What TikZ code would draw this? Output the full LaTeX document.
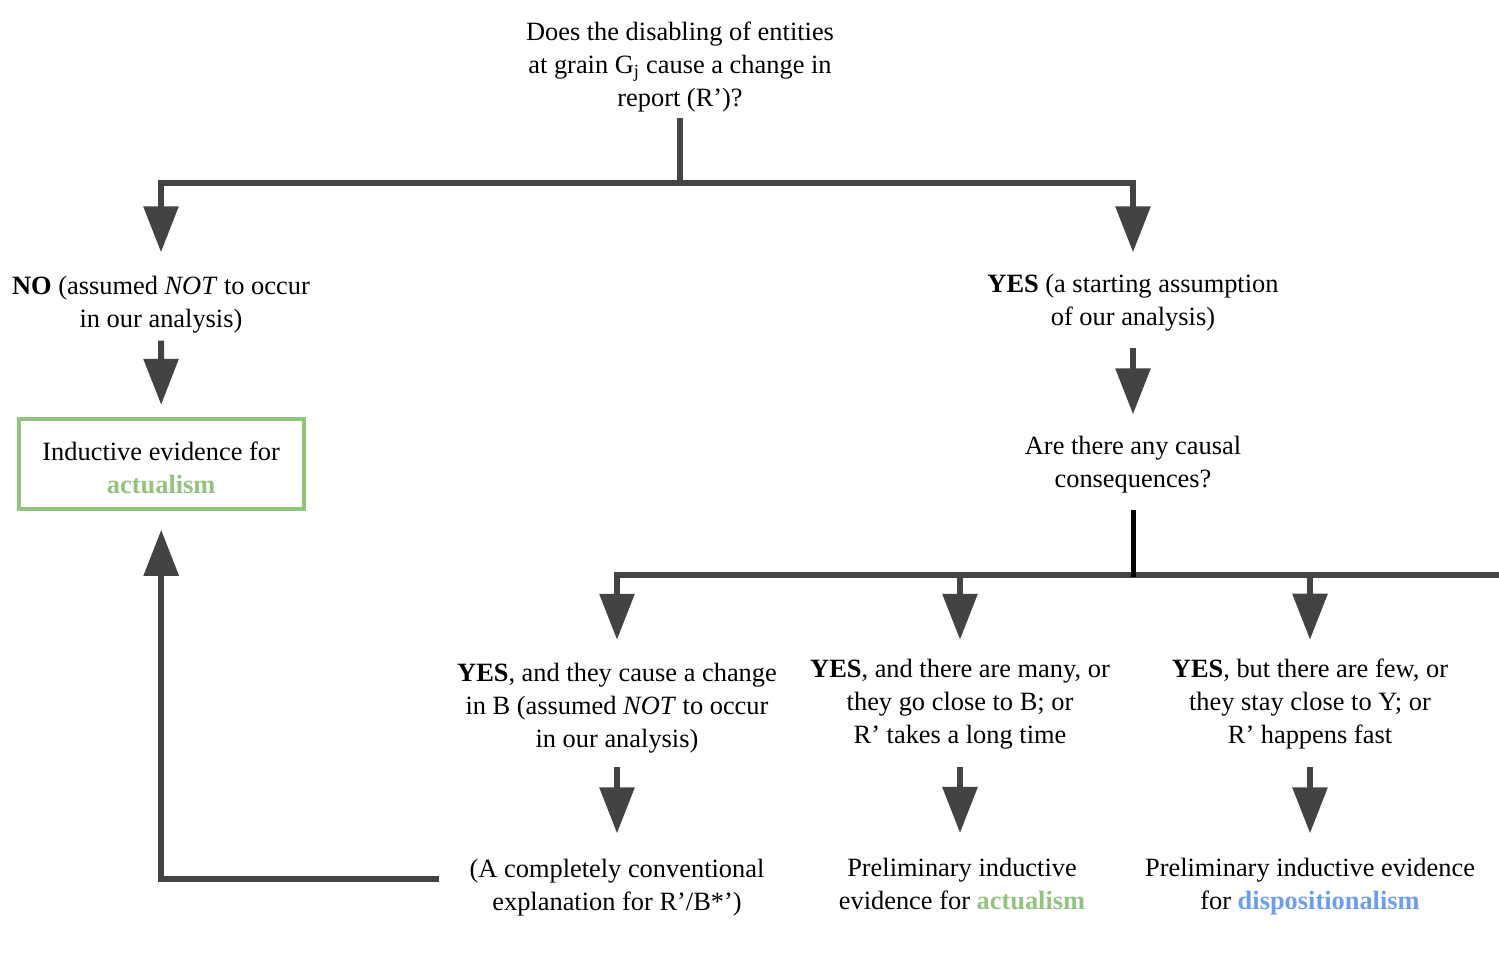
\documentclass[tikz,border=0pt]{standalone}
\usepackage{fontspec}
\setmainfont{Liberation Serif}
\usetikzlibrary{arrows.meta}
\definecolor{lineg}{HTML}{434343}
\definecolor{actg}{HTML}{93C47D}
\definecolor{dispb}{HTML}{6D9EEB}
\begin{document}
\begin{tikzpicture}[x=1pt,y=-1pt,
  link/.style={draw=lineg, line width=6pt},
  arr/.style={link, -{Triangle[width=34pt,length=46pt]}},
  txt/.style={align=center, inner sep=0pt, text=black, font=\fontsize{26.4}{33}\selectfont},
  goodbox/.style={txt, draw=actg, line width=4pt, minimum width=285pt, minimum height=90pt},
]
\useasboundingbox (0,0) rectangle (1499,958);

% questions and outcomes
\node[txt] (q1) at (680,67) {Does the disabling of entities\\at grain G\textsubscript{j} cause a change in\\report (R’)?};
\node[txt] (no) at (161,305) {\textbf{NO} (assumed \textit{NOT} to occur\\in our analysis)};
\node[goodbox] (act) at (161.2,463.8) {\rule{0pt}{27.5pt}Inductive evidence for\\\textbf{\color{actg}actualism}};
\node[txt] (yes) at (1133,303) {\textbf{YES} (a starting assumption\\of our analysis)};
\node[txt] (q2) at (1133,465) {Are there any causal\\consequences?};

\node[txt] (c1) at (617,708) {\textbf{YES}, and they cause a change\\in B (assumed \textit{NOT} to occur\\in our analysis)};
\node[txt] (c2) at (960,704) {\textbf{YES}, and there are many, or\\they go close to B; or\\R’ takes a long time};
\node[txt] (c3) at (1310,704) {\textbf{YES}, but there are few, or\\they stay close to Y; or\\R’ happens fast};

\node[txt] (r1) at (617,888) {(A completely conventional\\explanation for R’/B*’)};
\node[txt] (r2) at (962,884) {Preliminary inductive\\evidence for \textbf{\color{actg}actualism}};
\node[txt] (r3) at (1310,887) {Preliminary inductive evidence\\for \textbf{\color{dispb}dispositionalism}};

% branch points
\coordinate (j1) at (680,183);
\coordinate (j2) at (1133,575);
\coordinate (rim) at (1499,575);

% first split
\draw[link] ([yshift=-6pt]q1.south) -- (j1);
\draw[arr] (j1) -| ([yshift=24pt]no.north);
\draw[arr] (j1) -| ([yshift=22pt]yes.north);
\draw[arr, shorten >=12pt] ([yshift=-7pt]no.south) -- (act.north);
\draw[arr] ([yshift=-16pt]yes.south) -- ([yshift=22pt]q2.north);

% second split
\draw[link] (j2) -- (rim);
\draw[arr] (j2) -| ([yshift=23pt]c1.north);
\draw[arr] (j2) -| ([yshift=19pt]c2.north);
\draw[arr] (j2) -| ([yshift=19pt]c3.north);
\draw[black, line width=5pt] ([yshift=-16pt]q2.south) -- ([yshift=-2pt]j2);

\draw[arr] ([yshift=-14pt]c1.south) -- ([yshift=26pt]r1.north);
\draw[arr] ([yshift=-18pt]c2.south) -- ([yshift=25pt]r2.north -| c2.south);
\draw[arr] ([yshift=-18pt]c3.south) -- ([yshift=25pt]r3.north);

% conventional explanation feeds back into actualism
\draw[arr, shorten >=19pt] ([xshift=-30pt,yshift=9pt]r1.west) -| (act.south);
\end{tikzpicture}
\end{document}
